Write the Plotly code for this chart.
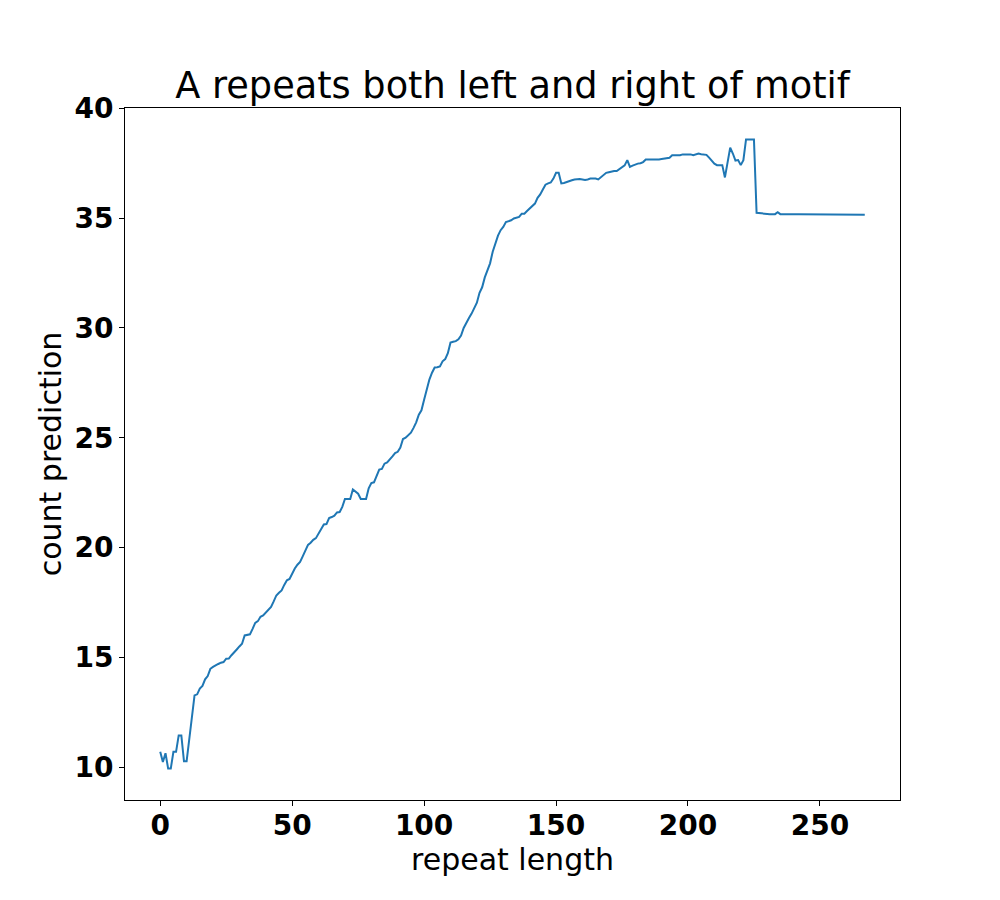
import plotly.graph_objects as go

repeat_length = [
    0, 1, 2, 3, 4, 5, 6, 7, 8, 9, 10, 13, 14, 15, 16, 17, 18, 19, 20,
    21, 22, 23, 24, 25, 26, 27, 28, 29, 30, 31, 32, 33, 34, 35, 36, 37, 38, 39, 40,
    41, 42, 43, 44, 45, 46, 47, 48, 49, 50, 51, 52, 53, 54, 55, 56, 57, 58, 59, 60,
    61, 62, 63, 64, 65, 66, 67, 68, 69, 70, 71, 72, 73, 74, 75, 76, 77, 78, 79, 80,
    81, 82, 83, 84, 85, 86, 87, 88, 89, 90, 91, 92, 93, 94, 95, 96, 97, 98, 99, 100,
    101, 102, 103, 104, 105, 106, 107, 108, 109, 110, 111, 112, 113, 114, 115, 116, 117, 118, 119, 120,
    121, 122, 123, 124, 125, 126, 127, 128, 129, 130, 131, 132, 133, 134, 135, 136, 137, 138, 139, 140,
    141, 142, 143, 144, 145, 146, 147, 148, 149, 150, 151, 152, 153, 154, 155, 156, 157, 158, 159, 160,
    161, 162, 163, 164, 165, 166, 167, 168, 169, 170, 171, 172, 173, 174, 175, 176, 177, 178, 179, 180,
    181, 182, 183, 184, 185, 186, 187, 188, 189, 190, 191, 192, 193, 194, 195, 196, 197, 198, 199, 200,
    201, 202, 203, 204, 205, 206, 207, 208, 209, 210, 211, 212, 213, 214, 215, 216, 217, 218, 219, 220,
    221, 222, 223, 224, 225, 226, 227, 228, 229, 230, 231, 232, 233, 234, 235, 242, 255, 267,
]

count_prediction = [
    10.70, 10.24, 10.64, 9.94, 9.94, 10.70, 10.70, 11.45, 11.45, 10.27, 10.27, 13.27, 13.32, 13.58, 13.70, 14.00, 14.15, 14.48, 14.57,
    14.62, 14.70, 14.76, 14.79, 14.94, 14.95, 15.10, 15.21, 15.36, 15.50, 15.62, 16.00, 16.02, 16.05, 16.30, 16.57, 16.65, 16.85, 16.91, 17.03,
    17.15, 17.30, 17.55, 17.82, 17.94, 18.05, 18.30, 18.51, 18.57, 18.85, 19.05, 19.22, 19.35, 19.60, 19.85, 20.12, 20.22, 20.35, 20.43, 20.65,
    20.90, 21.05, 21.07, 21.34, 21.39, 21.45, 21.60, 21.62, 21.85, 22.21, 22.21, 22.21, 22.64, 22.55, 22.45, 22.21, 22.21, 22.21, 22.70, 22.94,
    22.97, 23.25, 23.55, 23.58, 23.82, 23.88, 24.00, 24.15, 24.30, 24.36, 24.55, 24.94, 25.00, 25.12, 25.23, 25.45, 25.70, 26.05, 26.25, 26.73,
    27.20, 27.65, 27.96, 28.20, 28.21, 28.25, 28.48, 28.58, 28.85, 29.33, 29.37, 29.40, 29.48, 29.65, 30.00, 30.25, 30.45, 30.65, 30.90, 31.15,
    31.60, 31.85, 32.30, 32.64, 32.94, 33.47, 33.85, 34.20, 34.45, 34.60, 34.82, 34.85, 34.90, 34.98, 35.00, 35.05, 35.20, 35.20, 35.32, 35.43,
    35.55, 35.66, 35.92, 36.08, 36.30, 36.52, 36.58, 36.62, 36.80, 37.06, 37.06, 36.58, 36.60, 36.65, 36.69, 36.72, 36.76, 36.78, 36.78, 36.76,
    36.74, 36.76, 36.80, 36.80, 36.80, 36.76, 36.85, 36.98, 37.06, 37.09, 37.12, 37.14, 37.14, 37.24, 37.30, 37.40, 37.64, 37.33, 37.39, 37.44,
    37.48, 37.50, 37.55, 37.67, 37.67, 37.67, 37.66, 37.64, 37.67, 37.69, 37.71, 37.71, 37.75, 37.86, 37.86, 37.86, 37.86, 37.90, 37.90, 37.90,
    37.90, 37.86, 37.90, 37.94, 37.91, 37.90, 37.88, 37.75, 37.60, 37.48, 37.41, 37.41, 37.41, 36.85, 37.60, 38.21, 37.94, 37.62, 37.64, 37.41,
    37.64, 38.58, 38.58, 38.58, 38.58, 35.24, 35.22, 35.20, 35.20, 35.19, 35.18, 35.18, 35.18, 35.27, 35.18, 35.18, 35.16, 35.15,
]

title_text = "A repeats both left and right of motif"
x_label = "repeat length"
y_label = "count prediction"
x_ticks = [0, 50, 100, 150, 200, 250]
y_ticks = [10, 15, 20, 25, 30, 35, 40]

FONT = "DejaVu Sans"

fig = go.Figure()
fig.add_trace(go.Scatter(
    x=repeat_length, y=count_prediction, mode="lines",
    line=dict(color="#1f77b4", width=2), showlegend=False,
))

xmin, xmax = min(repeat_length), max(repeat_length)
ymin, ymax = min(count_prediction), max(count_prediction)
xpad = (xmax - xmin) * 0.05
ypad = (ymax - ymin) * 0.05

axis_common = dict(
    showgrid=False, zeroline=False, showline=True, linecolor="black", linewidth=1,
    mirror=True, ticks="outside", ticklen=5, tickwidth=1, tickcolor="black",
    tickfont=dict(family=FONT, size=28, color="black", weight="bold"),
)

fig.update_layout(
    width=1000, height=900,
    margin=dict(l=117, r=108, t=100, b=108),
    paper_bgcolor="white", plot_bgcolor="white",
    font=dict(family=FONT, color="black"),
    title=dict(text=title_text, x=0.5045, xanchor="center", y=0.914, yanchor="middle",
               font=dict(family=FONT, size=36.7, color="black")),
    xaxis=dict(range=[xmin - xpad, xmax + xpad], tickvals=x_ticks, ticklabelstandoff=-5,
               title=dict(text=x_label, font=dict(family=FONT, size=30, color="black"), standoff=5),
               **axis_common),
    yaxis=dict(range=[ymin - ypad, ymax + ypad], tickvals=y_ticks,
               title=dict(text=y_label, font=dict(family=FONT, size=30, color="black"), standoff=3),
               **axis_common),
)

fig.write_html("out.html")
